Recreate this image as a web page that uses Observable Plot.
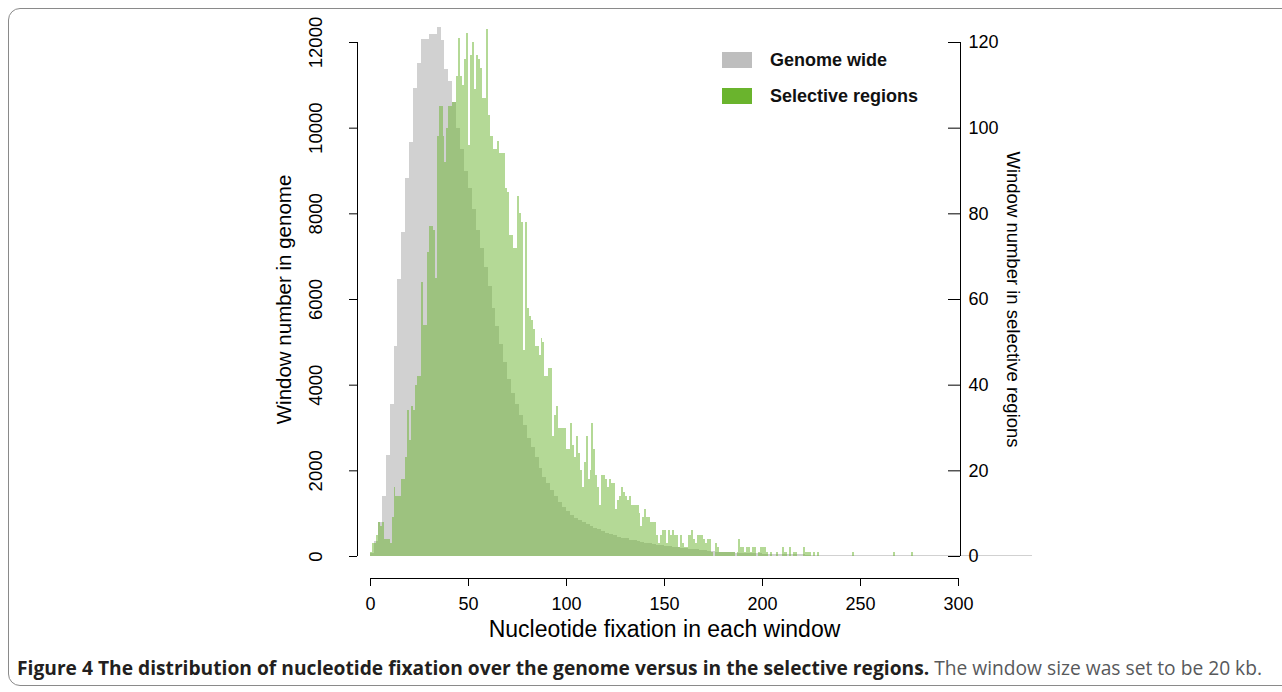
<!DOCTYPE html>
<html><head><meta charset="utf-8">
<script src="https://cdn.jsdelivr.net/npm/d3@7"></script>
<script src="https://cdn.jsdelivr.net/npm/@observablehq/plot@0.6"></script>
<style>
html,body{margin:0;padding:0;background:#fff;}
body{width:1282px;height:692px;overflow:hidden;position:relative;font-family:"Liberation Sans",Arial,sans-serif;}
#frame{position:absolute;left:8px;top:8px;width:1300px;height:678px;border:1px solid #8a8a8a;border-radius:12px;box-sizing:border-box;}
#chart{position:absolute;left:0;top:0;}
.leg{position:absolute;left:722px;width:30px;height:16px;}
.legt{position:absolute;left:770px;font-weight:bold;font-size:18px;color:#111;line-height:20px;white-space:nowrap;}
#caption{position:absolute;left:17px;top:655px;white-space:nowrap;font-family:"Open Sans",sans-serif;font-size:20px;line-height:26px;transform-origin:0 50%;}
#caption b{color:#231f20;}
#caption span{color:#58595b;}
</style></head>
<body>
<div id="frame"></div>
<div id="chart"></div>
<div id="legend"></div>
<div id="caption"></div>
<script>
const xTicks = [0, 50, 100, 150, 200, 250, 300];
const leftTicks = [0, 2000, 4000, 6000, 8000, 10000, 12000];
const rightTicks = [0, 20, 40, 60, 80, 100, 120];
const genomeBinWidth = 2;
const selectiveBinWidth = 1;
const selScale = 100; // right axis value × 100 = left axis value
const seriesNames = ["Genome wide", "Selective regions"];
const seriesColors = ["#bebebe", "#6ab42d"];
const xTitle = "Nucleotide fixation in each window";
const yLeftTitle = "Window number in genome";
const yRightTitle = "Window number in selective regions";
const captionBold = "Figure 4 The distribution of nucleotide fixation over the genome versus in the selective regions.";
const captionText = " The window size was set to be 20 kb.";

// genome-wide window counts, bins of width 2 starting at 0
const genomeCounts = [
  60, 350, 800, 1400, 2350, 3560, 4900, 6460, 7560, 8830,
  9670, 10920, 11520, 12060, 12060, 12190, 12190, 12350, 12050, 11370,
  11080, 10600, 10000, 9500, 9000, 8600, 8100, 7600, 7200, 6750,
  6300, 5800, 5370, 4950, 4520, 4130, 3800, 3550, 3300, 3050,
  2750, 2540, 2300, 2050, 1850, 1700, 1540, 1400, 1250, 1150,
  1040, 950, 880, 830, 790, 740, 700, 660, 620, 580,
  545, 510, 480, 455, 430, 410, 385, 365, 350, 330,
  315, 300, 280, 265, 255, 245, 230, 220, 205, 195,
  185, 175, 165, 155, 145, 135, 125, 115, 105, 100,
  95, 90, 85, 80, 78, 74, 70, 67, 64, 61,
  58, 55, 52, 50, 48, 46, 44, 42, 40, 38,
  37, 35, 34, 33, 32, 31, 30, 29, 28, 27,
  26, 26, 25, 25, 24, 24, 23, 23, 22, 22,
  21, 21, 20, 20, 20, 19, 19, 19, 18, 18,
  18, 17, 17, 17, 16, 16, 16, 16, 15, 15,
  15, 15, 15, 14, 14, 14, 14, 14, 14, 14,
  13, 13, 13, 13, 13, 13, 13, 13, 13
];

// selective-region window counts, bins of width 1 starting at 0
const selectiveCounts = [
  1, 3, 3, 5, 8, 7, 8, 4, 4, 4,
  3, 9, 16, 14, 14, 14, 18, 18, 23, 34,
  27, 35, 34, 40, 42, 42, 64, 54, 54, 71,
  77, 77, 76, 65, 98, 105, 105, 98, 92, 100,
  105, 105, 106, 106, 112, 121, 112, 110, 116, 122,
  96, 117, 120, 109, 117, 116, 114, 107, 107, 123,
  103, 98, 98, 95, 95, 97, 94, 94, 94, 86,
  85, 75, 75, 72, 72, 84, 80, 78, 48, 78,
  58, 56, 55, 53, 49, 49, 47, 51, 50, 42,
  42, 44, 44, 28, 33, 35, 30, 30, 30, 30,
  25, 25, 31, 26, 23, 28, 24, 20, 16, 22,
  28, 18, 20, 31, 25, 19, 16, 12, 19, 19,
  18, 16, 18, 17, 17, 11, 13, 14, 16, 15,
  14, 13, 14, 12, 12, 12, 12, 10, 7, 9,
  11, 9, 9, 8, 8, 8, 5, 3, 5, 6,
  6, 3, 6, 5, 6, 5, 5, 2, 5, 3,
  2, 2, 5, 5, 6, 4, 3, 5, 5, 5,
  4, 3, 4, 4, 1, 0, 3, 2, 1, 1,
  1, 1, 1, 1, 1, 1, 0, 1, 4, 2,
  2, 1, 2, 2, 1, 2, 2, 0, 1, 2,
  2, 2, 1, 0, 1, 0, 0, 1, 0, 0,
  2, 1, 1, 0, 2, 0, 1, 1, 0, 0,
  0, 2, 1, 1, 1, 0, 1, 0, 1, 0,
  0, 0, 0, 0, 0, 0, 0, 0, 0, 0,
  0, 0, 0, 0, 0, 0, 1, 0, 0, 0,
  0, 0, 0, 0, 0, 0, 0, 0, 0, 0,
  0, 0, 0, 0, 0, 0, 0, 1, 0, 0,
  0, 0, 0, 0, 0, 0, 1
];

const chart = Plot.plot({
  width: 1282,
  height: 645,
  marginLeft: 370,
  marginRight: 324,
  marginTop: 42,
  marginBottom: 89,
  x: {domain: [xTicks[0], xTicks[xTicks.length - 1]], axis: null},
  y: {domain: [leftTicks[0], leftTicks[leftTicks.length - 1]], axis: null},
  style: {fontFamily: "'Liberation Sans', Arial, sans-serif", fontSize: "17px", color: "#000", background: "transparent", overflow: "visible"},
  marks: [
    Plot.rect(genomeCounts, {
      x1: (d, i) => i * genomeBinWidth, x2: (d, i) => (i + 1) * genomeBinWidth,
      y1: 0, y2: d => d,
      fill: seriesColors[0], fillOpacity: 0.7, shapeRendering: "crispEdges"
    }),
    Plot.rect(selectiveCounts, {
      x1: (d, i) => i * selectiveBinWidth, x2: (d, i) => (i + 1) * selectiveBinWidth,
      y1: 0, y2: d => d * selScale,
      fill: seriesColors[1], fillOpacity: 0.5, shapeRendering: "crispEdges"
    }),
    // bottom axis
    Plot.ruleY([0], {x1: xTicks[0], x2: xTicks[xTicks.length - 1], dy: 22, stroke: "#000"}),
    Plot.axisX({ticks: xTicks, tickSize: 8, tickPadding: 11, dy: 22, label: null, fontSize: 18}),
    Plot.text([xTitle], {frameAnchor: "bottom", dy: 80, fontSize: 23}),
    // left axis
    Plot.ruleX([xTicks[0]], {y1: leftTicks[0], y2: leftTicks[leftTicks.length - 1], dx: -13, stroke: "#000"}),
    Plot.ruleY(leftTicks, {y: d => d, x1: xTicks[0], x2: xTicks[0], insetLeft: -21, insetRight: 13, stroke: "#000"}),
    Plot.text(leftTicks, {y: d => d, frameAnchor: "left", textAnchor: "middle", rotate: -90, dx: -54, text: d => String(d), fontSize: 18.5}),
    Plot.text([yLeftTitle], {frameAnchor: "left", textAnchor: "middle", rotate: -90, dx: -86, fontSize: 20.5}),
    // right axis (selective regions)
    Plot.ruleX([xTicks[xTicks.length - 1]], {y1: leftTicks[0], y2: leftTicks[leftTicks.length - 1], dx: 2, stroke: "#000"}),
    Plot.ruleY(rightTicks, {y: d => d * selScale, x1: xTicks[xTicks.length - 1], x2: xTicks[xTicks.length - 1], insetLeft: -10, insetRight: -2, stroke: "#000"}),
    Plot.text(rightTicks, {y: d => d * selScale, frameAnchor: "right", textAnchor: "start", dx: 10, text: d => String(d), fontSize: 18}),
    Plot.text([yRightTitle], {frameAnchor: "right", textAnchor: "middle", rotate: 90, dx: 54, fontSize: 18.5})
  ]
});
document.getElementById("chart").appendChild(chart);

// legend
const legend = document.getElementById("legend");
seriesNames.forEach((name, i) => {
  const sw = document.createElement("div");
  sw.className = "leg";
  sw.style.top = (52 + i * 36) + "px";
  sw.style.background = seriesColors[i];
  legend.appendChild(sw);
  const t = document.createElement("div");
  t.className = "legt";
  t.style.top = (50 + i * 36) + "px";
  t.textContent = name;
  legend.appendChild(t);
});

// caption
const cap = document.getElementById("caption");
const b = document.createElement("b"); b.textContent = captionBold;
const s = document.createElement("span"); s.textContent = captionText;
cap.appendChild(b); cap.appendChild(s);
const w = cap.getBoundingClientRect().width;
cap.style.transform = `scaleX(${1245 / w})`;
</script>
</body></html>
